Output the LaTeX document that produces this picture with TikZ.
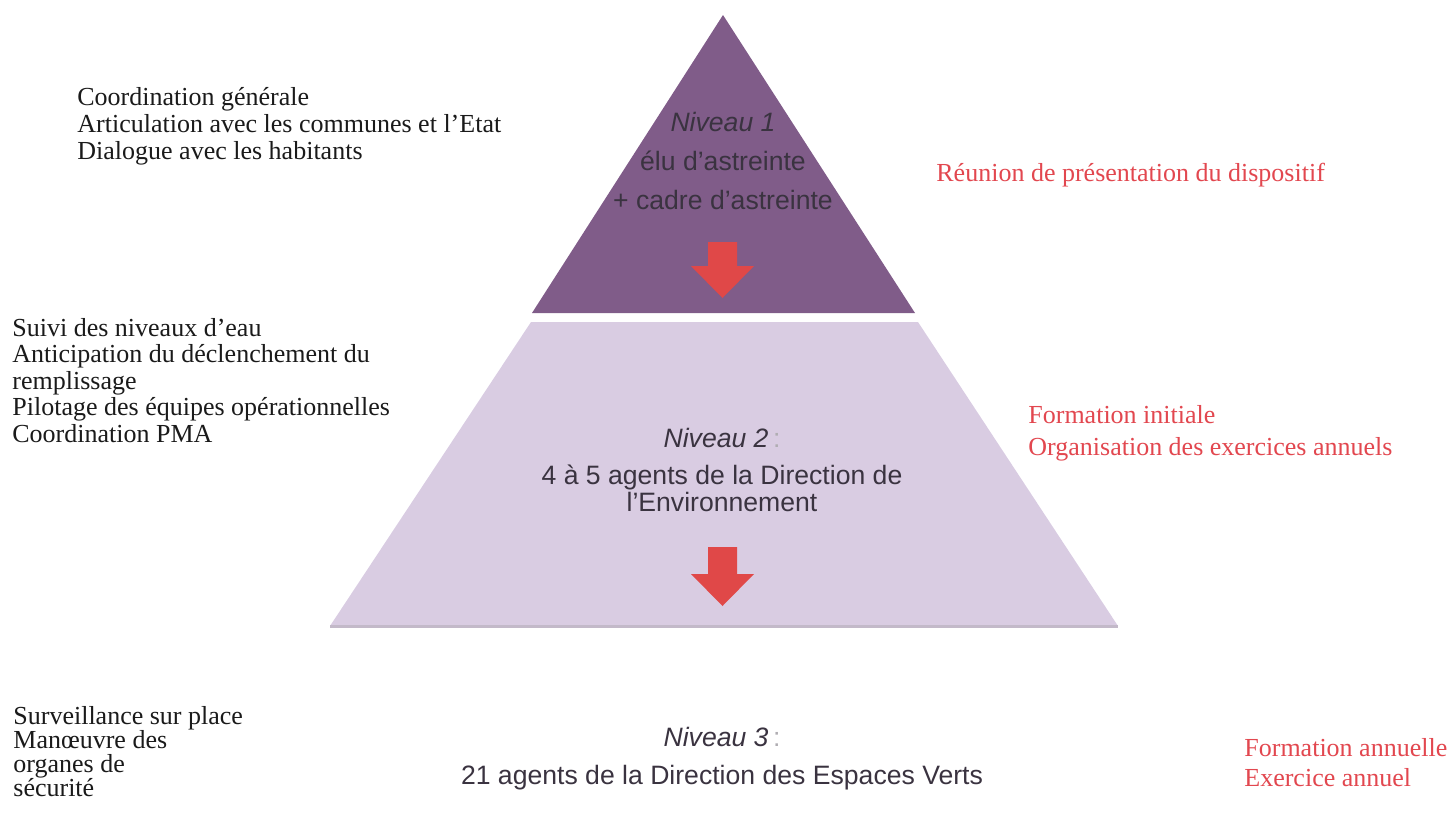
\documentclass[tikz,border=0pt]{standalone}
\usepackage{fontspec}
\setmainfont{Liberation Serif}
\setsansfont{Liberation Sans}
\usetikzlibrary{positioning}
\definecolor{ink}{HTML}{1a1a1a}
\definecolor{slate}{HTML}{3a3340}
\definecolor{plum}{HTML}{805c89}
\definecolor{lilac}{HTML}{d9cce2}
\definecolor{alert}{HTML}{e2474f}
\definecolor{arrowred}{HTML}{e04848}

\begin{document}
\begin{tikzpicture}[x=0.5pt,y=-0.5pt,
  task/.style={anchor=north west,inner sep=0pt,align=left,text=ink},
  drill/.style={anchor=north west,inner sep=0pt,align=left,text=alert},
  level/.style={inner sep=0pt,align=center,text=slate}]

  \useasboundingbox (0,0) rectangle (1453,815);

  % ---------------------------------------------------------------- PYRAMID
  \fill[plum] (723,15) -- (915,313) -- (532,313) -- cycle;
  \fill[lilac] (531,322) -- (918,322) -- (1118,626) -- (330,626) -- cycle;
  \draw[lilac!75!gray,line width=1.5] (330,626) -- (1118,626);

  % red arrows, level 1 -> 2 and level 2 -> 3
  \foreach \ytop/\len in {242/56,547/59} {
    \fill[arrowred] (708,\ytop) -- (737,\ytop) -- (737,\ytop+\len-32)
      -- (754,\ytop+\len-32) -- (722.5,\ytop+\len) -- (691,\ytop+\len-32)
      -- (708,\ytop+\len-32) -- cycle;
  }

  % ---------------------------------------------------------------- LEVEL TEXTS
  \node[level,font=\sffamily\fontsize{13.3}{12}\selectfont] (lvl1) at (723,161) {%
    \textit{Niveau 1}\\[7.5pt]
    élu d'astreinte\\[7.5pt]
    + cadre d'astreinte};
  \node[level,font=\sffamily\fontsize{13.3}{10.5}\selectfont] (lvl2) at (722,470) {%
    \textit{Niveau 2}\,{\color{slate!40}:}\\[8pt]
    4 à 5 agents de la Direction de\\
    l'Environnement};
  \node[level,font=\sffamily\fontsize{13.3}{12}\selectfont] (lvl3) at (722,759) {%
    \textit{Niveau 3}\,{\color{slate!40}:}\\[7pt]
    21 agents de la Direction des Espaces Verts};

  % ---------------------------------------------------------------- LEFT MISSIONS
  \node[task,font=\rmfamily\fontsize{13}{13.5}\selectfont] (coord) at (77,87) {%
    Coordination générale\\
    Articulation avec les communes et l’Etat\\
    Dialogue avec les habitants};
  \node[task,font=\rmfamily\fontsize{13}{13.25}\selectfont] (watch) at (12,318) {%
    Suivi des niveaux d’eau\\
    Anticipation du déclenchement du\\
    remplissage\\
    Pilotage des équipes opérationnelles\\
    Coordination PMA};
  \node[task,font=\rmfamily\fontsize{13}{12}\selectfont] (field) at (13,706) {%
    Surveillance sur place\\
    Manœuvre des\\
    organes de\\
    sécurité};

  % ---------------------------------------------------------------- RIGHT TRAINING
  \node[drill,font=\rmfamily\fontsize{13}{16}\selectfont] (brief) at (936,163) {%
    Réunion de présentation du dispositif};
  \node[drill,font=\rmfamily\fontsize{13}{16}\selectfont] (train) at (1028,405) {%
    Formation initiale\\
    Organisation des exercices annuels};
  \node[drill,font=\rmfamily\fontsize{13}{15}\selectfont] (yearly) at (1244,738) {%
    Formation annuelle\\
    Exercice annuel};

\end{tikzpicture}
\end{document}
